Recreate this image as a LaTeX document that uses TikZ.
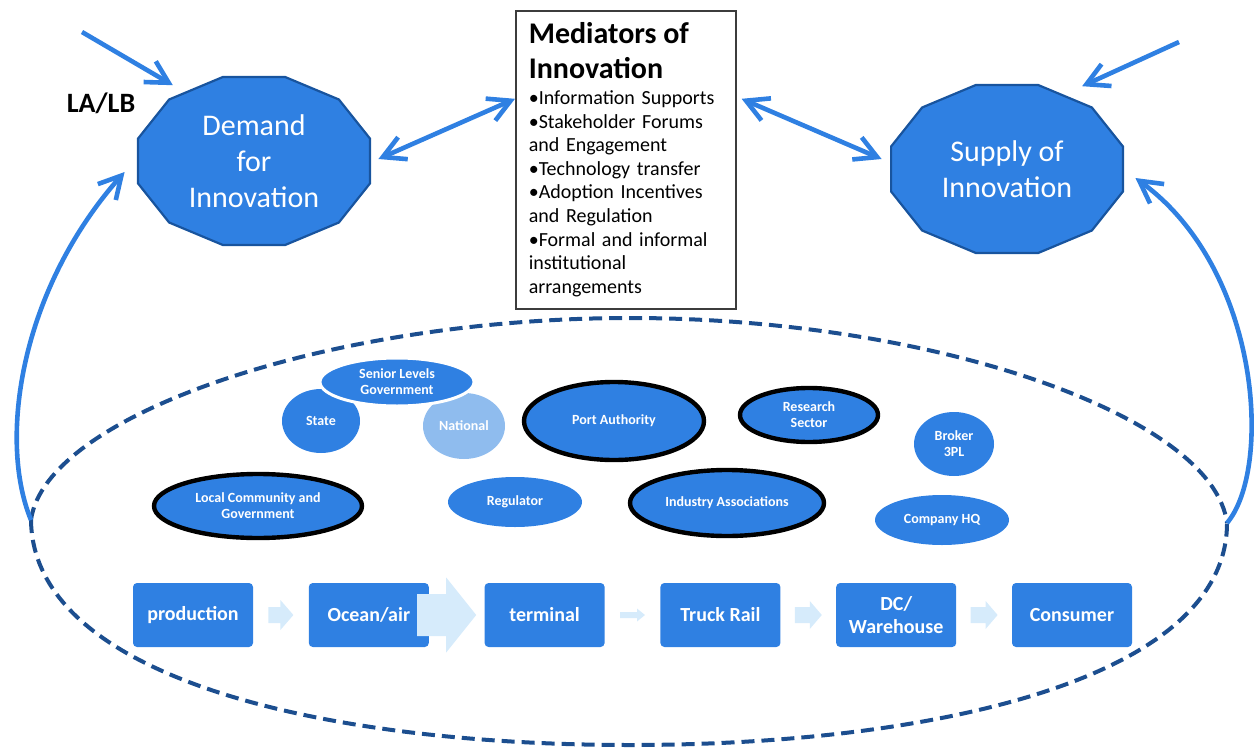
\documentclass[tikz,border=0pt]{standalone}
\usepackage{fontspec}
\setmainfont{Carlito}
\usetikzlibrary{positioning,calc,shapes.geometric,arrows.meta}

\definecolor{innoblue}{RGB}{47,128,226}
\definecolor{innoedge}{RGB}{24,84,158}
\definecolor{dashblue}{RGB}{28,78,143}
\definecolor{natblue}{RGB}{143,188,238}
\definecolor{flowpale}{RGB}{214,235,251}
\definecolor{medgrey}{RGB}{60,60,60}

% twelve sided blob round a coordinate
\newcommand{\dodecagon}[1]{%
  \draw[octo] ($(#1)+(15:60pt and 43.5pt)$)
    \foreach \a in {45,75,...,345}{ -- ($(#1)+(\a:60pt and 43.5pt)$)} -- cycle;}

% pale block arrow: centre, length, shaft half, head half, head length
\newcommand{\flowarr}[5]{%
  \fill[flowpale] ($(#1)+({-(#2)/2},{-(#3)})$) -- ($(#1)+({(#2)/2-(#5)},{-(#3)})$)
    -- ($(#1)+({(#2)/2-(#5)},{-(#4)})$) -- ($(#1)+({(#2)/2},0)$)
    -- ($(#1)+({(#2)/2-(#5)},{#4})$) -- ($(#1)+({(#2)/2-(#5)},{#3})$)
    -- ($(#1)+({-(#2)/2},{#3})$) -- cycle;}

\tikzset{
  octo/.style={fill=innoblue, draw=innoedge, line width=1.1pt},
  octotext/.style={ellipse, minimum width=120pt, minimum height=87pt, inner sep=0pt,
    text=white, align=center, font=\fontsize{15}{18}\selectfont},
  bigarrow/.style={draw=innoblue, line width=2.3pt, ->},
  dblarrow/.style={bigarrow, <->},
  medbox/.style={draw=medgrey, line width=0.8pt, fill=white, minimum width=110pt,
    minimum height=149pt, text width=97pt, inner xsep=6.5pt, align=left},
  actor/.style={ellipse, fill=innoblue, text=white, align=center, inner sep=0pt,
    font=\bfseries\fontsize{7}{8}\selectfont},
  keyactor/.style={actor, draw=black, line width=2.2pt},
  dashring/.style={draw=dashblue, line width=2pt, dash pattern=on 6.5pt off 3.5pt},
  flowbox/.style={rectangle, rounded corners=2pt, fill=innoblue, text=white,
    minimum width=60pt, minimum height=32pt, inner sep=1pt, align=center,
    font=\bfseries\fontsize{10}{11.5}\selectfont}
}

\begin{document}
\begin{tikzpicture}[x=0.5pt, y=-0.5pt, >={Straight Barb[length=11pt,width=12pt]}]
  \useasboundingbox (0,0) rectangle (1257,749);

  % dashed ring
  \coordinate (cuspL) at (31,520);
  \coordinate (cuspR) at (1227,523);
  \draw[dashring] (cuspL) .. controls (45,415) and (330,318) .. (630,318)
    .. controls (930,318) and (1213,415) .. (cuspR);
  \draw[dashring] (cuspL) .. controls (33,680) and (330,745) .. (630,745)
    .. controls (930,745) and (1227,680) .. (cuspR);

  % demand and supply
  \coordinate (demC) at (254,161);
  \coordinate (supC) at (1007,169);
  \dodecagon{demC}
  \dodecagon{supC}
  \node[octotext] (dem) at (demC) {Demand\\for\\Innovation};
  \node[octotext] (sup) at (supC) {Supply of\\Innovation};

  \node[font=\bfseries\fontsize{14}{16}\selectfont] (lalb) at (101,103) {LA/LB};

  % mediators
  \node[medbox, anchor=north west] (med) at (515,10) {%
    {\fontsize{15}{17.5}\selectfont\bfseries Mediators of\\Innovation\par}
    \vspace{1pt}
    {\fontsize{10}{11.8}\selectfont •Information Supports\\
      •Stakeholder Forums\\
      and Engagement\\
      •Technology transfer\\
      •Adoption Incentives\\
      and Regulation\\
      •Formal and informal\\
      institutional\\
      arrangements\par}};

  \coordinate (laIn) at (82,32);
  \coordinate (supIn) at (1179,42);
  \draw[bigarrow] (laIn) -- ([shift={(2pt,7pt)}]dem.north west);
  \draw[bigarrow] (supIn) -- ([shift={(-5pt,10.5pt)}]sup.north east);
  \draw[dblarrow] ([shift={(2pt,1pt)}]dem.east) -- ([yshift=30.5pt]med.west);
  \draw[dblarrow] ([shift={(2.5pt,30.5pt)}]med.east) -- ([shift={(-2.5pt,5pt)}]sup.west);
  \draw[bigarrow] (cuspL) .. controls (-2,440) and (20,290) .. ([shift={(-4.5pt,-5.5pt)}]dem.west);
  \draw[bigarrow] (cuspR) .. controls (1272,470) and (1262,270) .. ([shift={(4pt,-4.5pt)}]sup.east);

  % actors
  \node[actor, minimum width=39pt, minimum height=32pt] (state) at (321,421) {State};
  \node[actor, fill=natblue, minimum width=41pt, minimum height=33pt] (natl) at (464,426) {National};
  \node[actor, draw=white, line width=1.5pt, minimum width=77pt, minimum height=24pt] (senior) at (397,382) {Senior Levels\\Government};
  \node[keyactor, minimum width=90pt, minimum height=39pt] (port) at (614,421) {Port Authority};
  \node[keyactor, minimum width=69pt, minimum height=27pt] (research) at (809,415) {Research\\Sector};
  \node[actor, minimum width=40pt, minimum height=32pt] (broker) at (954,444) {Broker\\3PL};
  \node[keyactor, minimum width=104pt, minimum height=32pt] (local) at (258,506) {Local Community and\\Government};
  \node[actor, minimum width=67pt, minimum height=25pt] (reg) at (515,502) {Regulator};
  \node[keyactor, minimum width=97pt, minimum height=33pt] (industry) at (727,503) {Industry Associations};
  \node[actor, minimum width=67pt, minimum height=25pt] (hq) at (942,520) {Company HQ};

  % supply chain
  \node[flowbox] (prod) at (193,615) {production};
  \node[flowbox, right=27.5pt of prod] (ocean) {Ocean/air};
  \node[flowbox, right=27.5pt of ocean] (term) {terminal};
  \node[flowbox, right=27.5pt of term] (truck) {Truck Rail};
  \node[flowbox, right=27.5pt of truck] (dc) {DC/\\Warehouse};
  \node[flowbox, right=27.5pt of dc] (cons) {Consumer};

  \coordinate (f1) at ($(prod.east)!0.5!(ocean.west)$);
  \coordinate (f2) at ($(ocean.east)!0.5!(term.west)+(-10,0)$);
  \coordinate (f3) at ($(term.east)!0.5!(truck.west)$);
  \coordinate (f4) at ($(truck.east)!0.5!(dc.west)$);
  \coordinate (f5) at ($(dc.east)!0.5!(cons.west)$);
  \flowarr{f1}{25}{8}{15}{13}
  \flowarr{f2}{59}{21}{37.5}{30}
  \flowarr{f3}{25}{3}{6.5}{8}
  \flowarr{f4}{27}{8}{14}{12}
  \flowarr{f5}{27}{8}{14}{12}
\end{tikzpicture}
\end{document}
